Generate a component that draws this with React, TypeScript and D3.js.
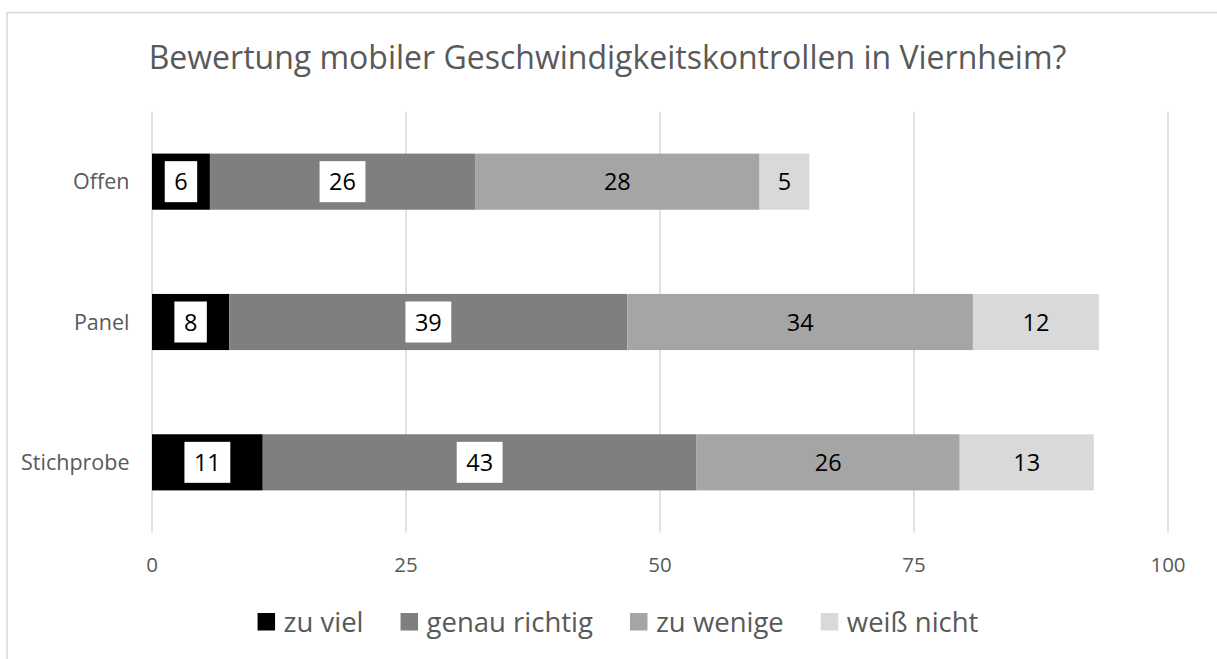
import React, { useEffect, useRef } from 'react';
import * as d3 from 'd3';

// survey groups (rows) and answer series
const categories = ['Offen', 'Panel', 'Stichprobe'];
const seriesNames = ['zu viel', 'genau richtig', 'zu wenige', 'weiß nicht'];

// percentages per group
const zuViel = [5.7, 7.6, 10.9];
const genauRichtig = [26.1, 39.2, 42.7];
const zuWenige = [28.0, 34.0, 25.9];
const weissNicht = [4.9, 12.4, 13.2];

const xTicks = [0, 25, 50, 75, 100];
const title = 'Bewertung mobiler Geschwindigkeitskontrollen in Viernheim?';

const colors = ['#000000', '#7f7f7f', '#a5a5a5', '#d9d9d9'];
// dark segments get a white label box
const boxed = [true, true, false, false];

const W = 1217;
const H = 659;
const FONT = '"Open Sans", "Liberation Sans", sans-serif';
const TEXT = '#595959';

export default function App() {
  const svgRef = useRef<SVGSVGElement>(null);

  useEffect(() => {
    const svg = d3.select(svgRef.current);
    svg.selectAll('*').remove();

    // chart border (runs past the right/bottom edges like the original)
    svg.append('rect')
      .attr('x', 7).attr('y', 12.5)
      .attr('width', W + 20).attr('height', H + 20)
      .attr('fill', '#fff')
      .attr('stroke', '#d9d9d9')
      .attr('stroke-width', 1.5);

    svg.append('text')
      .attr('x', 607.5).attr('y', 69)
      .attr('text-anchor', 'middle')
      .attr('font-family', FONT)
      .attr('font-size', 32)
      .attr('fill', TEXT)
      .text(title);

    const x = d3.scaleLinear().domain([0, 100]).range([152, 1168]);
    const y = d3.scaleBand<string>()
      .domain(categories)
      .range([111.5, 532.5])
      .paddingInner(0.6)
      .paddingOuter(0.3);

    // gridlines
    svg.append('g')
      .selectAll('line')
      .data(xTicks)
      .join('line')
      .attr('x1', d => x(d)).attr('x2', d => x(d))
      .attr('y1', 111.5).attr('y2', 532.5)
      .attr('stroke', '#d9d9d9')
      .attr('stroke-width', 1.5);

    // tick labels
    svg.append('g')
      .selectAll('text')
      .data(xTicks)
      .join('text')
      .attr('x', d => x(d))
      .attr('y', 572)
      .attr('text-anchor', 'middle')
      .attr('font-family', FONT)
      .attr('font-size', 20.5)
      .attr('fill', TEXT)
      .text(d => d);

    // category labels
    svg.append('g')
      .selectAll('text')
      .data(categories)
      .join('text')
      .attr('x', 129.5)
      .attr('y', d => y(d)! + y.bandwidth() / 2 + 7.5)
      .attr('text-anchor', 'end')
      .attr('font-family', FONT)
      .attr('font-size', 21.5)
      .attr('fill', TEXT)
      .text(d => d);

    const rows = categories.map((c, i) => {
      const r: any = { category: c };
      r[seriesNames[0]] = zuViel[i];
      r[seriesNames[1]] = genauRichtig[i];
      r[seriesNames[2]] = zuWenige[i];
      r[seriesNames[3]] = weissNicht[i];
      return r;
    });
    const stacked = d3.stack().keys(seriesNames)(rows);

    stacked.forEach((layer, si) => {
      const g = svg.append('g');
      g.selectAll('rect')
        .data(layer)
        .join('rect')
        .attr('x', d => x(d[0]))
        .attr('width', d => x(d[1]) - x(d[0]))
        .attr('y', d => y(d.data.category as string)!)
        .attr('height', y.bandwidth())
        .attr('fill', colors[si]);

      const labels = g.selectAll('g.lbl')
        .data(layer)
        .join('g')
        .attr('class', 'lbl')
        .attr('transform', d =>
          `translate(${(x(d[0]) + x(d[1])) / 2}, ${y(d.data.category as string)! + y.bandwidth() / 2})`);

      const bg = labels.append('rect').attr('fill', '#fff');
      const txt = labels.append('text')
        .attr('text-anchor', 'middle')
        .attr('y', 8.5)
        .attr('font-family', FONT)
        .attr('font-size', 23.5)
        .attr('fill', '#000')
        .text(d => Math.round(d[1] - d[0]));

      if (boxed[si]) {
        txt.each(function () {
          const w = (this as SVGTextElement).getComputedTextLength();
          d3.select((this as SVGTextElement).parentNode as SVGGElement).select('rect')
            .attr('x', -w / 2 - 9.5)
            .attr('width', w + 19)
            .attr('y', -20.5)
            .attr('height', 41);
        });
      } else {
        bg.remove();
      }
    });

    // legend, centred under the plot
    const legend = svg.append('g');
    const items = legend.selectAll('g')
      .data(seriesNames)
      .join('g');
    items.append('rect')
      .attr('width', 17.5).attr('height', 17.5)
      .attr('y', 613)
      .attr('fill', (_d, i) => colors[i]);
    items.append('text')
      .attr('x', 26)
      .attr('y', 632)
      .attr('font-family', FONT)
      .attr('font-size', 27.5)
      .attr('fill', TEXT)
      .text(d => d);

    let offset = 0;
    const widths: number[] = [];
    items.select('text').each(function () {
      widths.push((this as SVGTextElement).getComputedTextLength());
    });
    const gap = 37;
    const total = d3.sum(widths) + widths.length * 26 + gap * (widths.length - 1);
    const start = 618 - total / 2;
    items.attr('transform', (_d, i) => {
      const t = `translate(${start + offset}, 0)`;
      offset += 26 + widths[i] + gap;
      return t;
    });
  }, []);

  return (
    <svg
      ref={svgRef}
      width={W}
      height={H}
      style={{ position: 'absolute', left: 0, top: 0, background: '#fff' }}
    />
  );
}
